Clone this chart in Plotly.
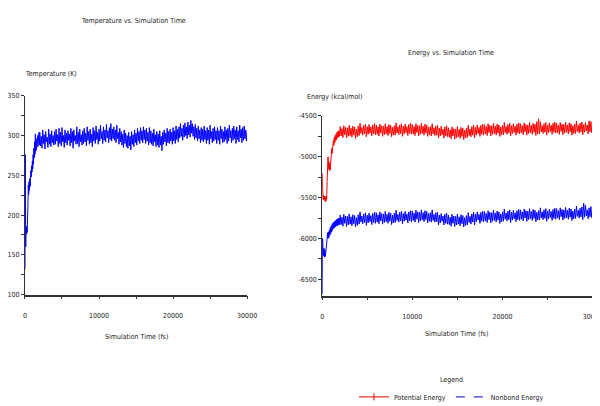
import plotly.graph_objects as go

# ---------------- data ----------------
TIME_EARLY_FS = [0, 50, 100, 150, 200, 250, 300, 350, 400, 450, 500, 550, 600, 650, 700, 750,
                 800, 850, 900, 950, 1000, 1050, 1100, 1150, 1200, 1250, 1300, 1350, 1400, 1450,
                 1500, 1550, 1600, 1650, 1700, 1750, 1800, 1850, 1900, 1950]
TIME_LATE_FS = list(range(2000, 30001, 100))
TIME_FS = TIME_EARLY_FS + TIME_LATE_FS

TEMPERATURE_K = [
    132, 276, 160, 186, 176, 184, 178, 188, 212, 238, 226, 242, 231, 246, 236, 245,
    256, 248, 262, 254, 268, 258, 276, 264, 284, 272, 292, 276, 302, 280,
    296, 282, 298, 284, 300, 286, 302, 286, 304, 288,
    304, 287, 299, 284, 307, 290, 301, 283, 305, 292, 298, 285, 308, 289, 302, 286, 306, 291, 300, 288,
    305, 289, 308, 293, 301, 286, 309, 290, 304, 287, 310, 292, 300, 285, 307, 291, 303, 288, 306, 294,
    302, 287, 309, 291, 305, 284, 307, 293, 300, 289, 311, 290, 304, 286, 308, 292, 301, 288, 306, 290,
    309, 292, 303, 287, 311, 294, 305, 289, 308, 291, 302, 286, 310, 293, 306, 290, 312, 295, 304, 289,
    308, 293, 313, 296, 305, 290, 311, 294, 307, 292, 314, 297, 306, 291, 310, 295, 315, 293, 308, 296,
    311, 294, 307, 291, 313, 296, 304, 289, 309, 292, 305, 288, 302, 285, 307, 290, 303, 286, 300, 284,
    304, 287, 299, 282, 305, 289, 301, 286, 307, 291, 303, 288, 309, 293, 305, 290, 310, 294, 306, 291,
    311, 295, 307, 290, 309, 293, 304, 288, 310, 291, 306, 289, 303, 287, 308, 292, 301, 286, 305, 288,
    302, 285, 306, 288, 299, 281, 304, 289, 307, 292, 303, 287, 309, 291, 305, 290, 308, 293, 304, 289,
    310, 293, 306, 290, 312, 295, 308, 292, 311, 297, 315, 299, 309, 294, 313, 298, 316, 300, 311, 296,
    317, 301, 313, 298, 319, 303, 315, 299, 311, 295, 314, 297, 309, 293, 312, 296, 307, 291, 310, 294,
    308, 292, 312, 295, 306, 290, 310, 294, 307, 289, 313, 296, 305, 291, 309, 293, 311, 295, 306, 290,
    310, 294, 306, 289, 312, 296, 308, 291, 305, 292, 311, 295, 307, 290, 309, 293, 313, 297, 306, 291,
    309, 294, 312, 296, 307, 290, 311, 295, 306, 292, 313, 297, 308, 291, 310, 294, 312, 296, 307, 293,
    305,
]

POTENTIAL_ENERGY = [
    -5200, -5450, -5520, -5470, -5530, -5480, -5540, -5490, -5550, -5480, -5520, -5300,
    -5120, -5000, -5150, -5060, -5170, -5080, -5160, -5040, -4980, -4900, -4960, -4840,
    -4900, -4800, -4860, -4760, -4830, -4740, -4800, -4720, -4790, -4700, -4770, -4690,
    -4760, -4680, -4750, -4670,
    -4630, -4745, -4655, -4765, -4620, -4730, -4640, -4770, -4645, -4750, -4615, -4740, -4650, -4760, -4625, -4735, -4635, -4775, -4660, -4755,
    -4625, -4740, -4590, -4715, -4640, -4735, -4615, -4720, -4600, -4755, -4630, -4725, -4605, -4710, -4635, -4745, -4610, -4720, -4595, -4730,
    -4610, -4725, -4635, -4745, -4600, -4710, -4620, -4750, -4625, -4730, -4595, -4720, -4630, -4740, -4605, -4715, -4615, -4755, -4640, -4735,
    -4620, -4735, -4585, -4710, -4635, -4730, -4610, -4715, -4595, -4750, -4625, -4720, -4600, -4705, -4630, -4740, -4605, -4715, -4590, -4725,
    -4605, -4720, -4630, -4740, -4595, -4705, -4615, -4745, -4620, -4725, -4590, -4715, -4625, -4735, -4600, -4710, -4610, -4750, -4635, -4730,
    -4630, -4745, -4595, -4720, -4645, -4740, -4625, -4735, -4615, -4770, -4650, -4745, -4625, -4730, -4660, -4770, -4635, -4745, -4620, -4755,
    -4645, -4760, -4670, -4780, -4635, -4745, -4655, -4785, -4660, -4765, -4630, -4755, -4665, -4775, -4640, -4750, -4650, -4790, -4675, -4770,
    -4650, -4765, -4615, -4740, -4660, -4755, -4630, -4735, -4615, -4770, -4640, -4735, -4610, -4715, -4640, -4750, -4615, -4725, -4600, -4735,
    -4605, -4720, -4630, -4740, -4595, -4705, -4615, -4745, -4620, -4725, -4590, -4715, -4625, -4735, -4600, -4710, -4610, -4750, -4635, -4730,
    -4615, -4730, -4580, -4705, -4630, -4725, -4605, -4710, -4590, -4745, -4620, -4715, -4595, -4700, -4625, -4735, -4600, -4710, -4585, -4720,
    -4595, -4710, -4620, -4730, -4585, -4695, -4605, -4735, -4610, -4715, -4580, -4705, -4615, -4725, -4590, -4700, -4600, -4740, -4570, -4720,
    -4535, -4720, -4570, -4695, -4620, -4715, -4595, -4700, -4580, -4735, -4610, -4705, -4585, -4690, -4615, -4725, -4590, -4700, -4575, -4710,
    -4590, -4705, -4615, -4725, -4580, -4690, -4600, -4730, -4605, -4710, -4575, -4700, -4610, -4720, -4585, -4695, -4595, -4735, -4620, -4715,
    -4600, -4715, -4565, -4690, -4615, -4710, -4590, -4695, -4575, -4730, -4605, -4700, -4580, -4685, -4610, -4720, -4560, -4695, -4570, -4705,
    -4640,
]

NONBOND_ENERGY = [
    -6680, -6000, -6150, -6210, -6120, -6230, -6140, -6220, -6100, -6180, -6060, -6000,
    -5930, -6000, -5920, -5990, -5900, -5960, -5870, -5940, -5850, -5920, -5830, -5900,
    -5810, -5880, -5800, -5870, -5790, -5860, -5780, -5850, -5770, -5845, -5760, -5840,
    -5755, -5835, -5750, -5830,
    -5715, -5830, -5740, -5850, -5705, -5815, -5725, -5855, -5730, -5835, -5700, -5825, -5735, -5845, -5710, -5820, -5720, -5860, -5745, -5840,
    -5710, -5825, -5675, -5800, -5725, -5820, -5700, -5805, -5685, -5840, -5715, -5810, -5690, -5795, -5720, -5830, -5695, -5805, -5680, -5815,
    -5685, -5800, -5710, -5820, -5675, -5785, -5695, -5825, -5700, -5805, -5670, -5795, -5705, -5815, -5680, -5790, -5690, -5830, -5715, -5810,
    -5690, -5805, -5655, -5780, -5705, -5800, -5680, -5785, -5665, -5820, -5695, -5790, -5670, -5775, -5700, -5810, -5675, -5785, -5660, -5795,
    -5665, -5780, -5690, -5800, -5655, -5765, -5675, -5805, -5680, -5785, -5650, -5775, -5685, -5795, -5660, -5770, -5670, -5810, -5695, -5790,
    -5685, -5800, -5650, -5780, -5705, -5800, -5685, -5795, -5680, -5835, -5715, -5810, -5695, -5790, -5725, -5835, -5705, -5815, -5690, -5825,
    -5715, -5830, -5740, -5850, -5705, -5815, -5725, -5855, -5730, -5835, -5700, -5825, -5735, -5845, -5710, -5820, -5720, -5860, -5745, -5840,
    -5720, -5835, -5685, -5805, -5730, -5825, -5700, -5800, -5680, -5835, -5705, -5795, -5675, -5775, -5705, -5815, -5680, -5790, -5665, -5795,
    -5670, -5785, -5695, -5805, -5660, -5770, -5680, -5810, -5685, -5790, -5655, -5780, -5690, -5800, -5665, -5775, -5675, -5815, -5700, -5795,
    -5675, -5790, -5640, -5765, -5690, -5785, -5665, -5770, -5650, -5805, -5680, -5775, -5655, -5760, -5685, -5795, -5660, -5770, -5645, -5780,
    -5650, -5765, -5675, -5785, -5640, -5750, -5660, -5790, -5665, -5770, -5635, -5760, -5670, -5780, -5645, -5755, -5655, -5795, -5680, -5775,
    -5660, -5775, -5625, -5750, -5675, -5770, -5650, -5755, -5635, -5790, -5665, -5760, -5640, -5745, -5670, -5780, -5645, -5755, -5630, -5765,
    -5635, -5750, -5660, -5770, -5625, -5735, -5645, -5775, -5650, -5755, -5620, -5745, -5655, -5765, -5630, -5740, -5640, -5780, -5665, -5760,
    -5640, -5755, -5605, -5730, -5655, -5750, -5630, -5735, -5615, -5770, -5570, -5740, -5590, -5725, -5650, -5760, -5625, -5735, -5610, -5745,
    -5680,
]

X_TICKS = [0, 10000, 20000, 30000]
X_TICK_TEXT = ["0", "10000", "20000", "30000"]
TEMP_TICKS = [100, 150, 200, 250, 300, 350]
TEMP_TICK_TEXT = ["100", "150", "200", "250", "300", "350"]
ENERGY_TICKS = [-6500, -6000, -5500, -5000, -4500]
ENERGY_TICK_TEXT = ["-6500", "-6000", "-5500", "-5000", "-4500"]

# ---------------- figure ----------------
FONT = "Liberation Sans Narrow, DejaVu Sans Condensed, Arial Narrow, sans-serif"
BLUE = "#0000ff"
RED = "#ff0000"
AX = "#333333"
TXT = "#222222"
FS = 7

fig = go.Figure()

fig.add_trace(go.Scatter(x=TIME_FS, y=TEMPERATURE_K, mode="lines",
                         line=dict(color=BLUE, width=1), xaxis="x", yaxis="y",
                         showlegend=False, hoverinfo="skip"))
fig.add_trace(go.Scatter(x=TIME_FS, y=POTENTIAL_ENERGY, mode="lines",
                         line=dict(color=RED, width=1), xaxis="x2", yaxis="y2",
                         showlegend=False, hoverinfo="skip"))
fig.add_trace(go.Scatter(x=TIME_FS, y=NONBOND_ENERGY, mode="lines",
                         line=dict(color=BLUE, width=1), xaxis="x2", yaxis="y2",
                         showlegend=False, hoverinfo="skip"))

# legend-only entries
fig.add_trace(go.Scatter(x=[None], y=[None], mode="lines+markers", name="Potential Energy",
                         line=dict(color="#e00000", width=1),
                         marker=dict(symbol="line-ns", size=5, color="#e00000",
                                     line=dict(color="#e00000", width=1)),
                         xaxis="x2", yaxis="y2"))
fig.add_trace(go.Scatter(x=[None], y=[None], mode="lines", name="Nonbond Energy",
                         line=dict(color="#0000c0", width=1, dash="dash"),
                         xaxis="x2", yaxis="y2"))

# calibration of where the figure lands in the captured page
W, H = 620, 420
OX, OY, S = 18.0, 14.0, 0.972


def px_x(p):
    return min(1.0, max(0.0, (p - OX) / S / W))


def px_y(p):
    return min(1.0, max(0.0, 1 - (p - OY) / S / H))


common_axis = dict(showgrid=False, zeroline=False, showline=True, linecolor=AX,
                   linewidth=1, ticks="outside", ticklen=3, tickcolor=AX, tickwidth=1,
                   tickfont=dict(family=FONT, size=FS, color=TXT))

fig.update_layout(
    width=W, height=H,
    margin=dict(l=0, r=0, t=0, b=0),
    paper_bgcolor="white", plot_bgcolor="white",
    font=dict(family=FONT, size=FS, color=TXT),
    xaxis=dict(domain=[px_x(20), px_x(245)], range=[0, 30000], anchor="y",
               tickvals=X_TICKS, ticktext=X_TICK_TEXT, ticklabelstandoff=10,
               minor=dict(dtick=5000, tick0=0, ticks="outside", ticklen=3, tickcolor=AX),
               **{**common_axis, "linewidth": 1.5}),
    yaxis=dict(domain=[px_y(294), px_y(97)], range=[100, 350], anchor="x",
               tickvals=TEMP_TICKS, ticktext=TEMP_TICK_TEXT,
               minor=dict(dtick=25, tick0=100, ticks="outside", ticklen=3, tickcolor=AX),
               **common_axis),
    xaxis2=dict(domain=[px_x(321), px_x(595)], range=[0, 30000], anchor="y2",
                tickvals=X_TICKS, ticktext=X_TICK_TEXT, ticklabelstandoff=10,
                minor=dict(dtick=5000, tick0=0, ticks="outside", ticklen=3, tickcolor=AX),
                **{**common_axis, "linewidth": 1.5}),
    yaxis2=dict(domain=[px_y(295), px_y(117)], range=[-6700, -4500], anchor="x2",
                tickvals=ENERGY_TICKS, ticktext=ENERGY_TICK_TEXT,
                minor=dict(dtick=250, tick0=-4500, ticks="outside", ticklen=3, tickcolor=AX),
                **common_axis),
    legend=dict(orientation="h", x=px_x(452), xanchor="center", y=px_y(372), yanchor="top",
                title=dict(text="Legend", side="top center", font=dict(family=FONT, size=FS)),
                font=dict(family=FONT, size=FS, color=TXT),
                bgcolor="rgba(0,0,0,0)", itemwidth=30, tracegroupgap=0),
)


def label(text, x, y, xanchor="center"):
    fig.add_annotation(text=text, x=px_x(x), y=px_y(y), xref="paper", yref="paper",
                       xanchor=xanchor, yanchor="middle", showarrow=False,
                       font=dict(family=FONT, size=FS, color=TXT))


label("Temperature vs. Simulation Time", 130, 23)
label("Temperature (K)", 11, 75, "left")
label("Simulation Time (fs)", 133, 336)
label("Energy vs. Simulation Time", 452, 55)
label("Energy (kcal/mol)", 304, 98, "left")
label("Simulation Time (fs)", 457, 333)

fig.write_html("out.html")
